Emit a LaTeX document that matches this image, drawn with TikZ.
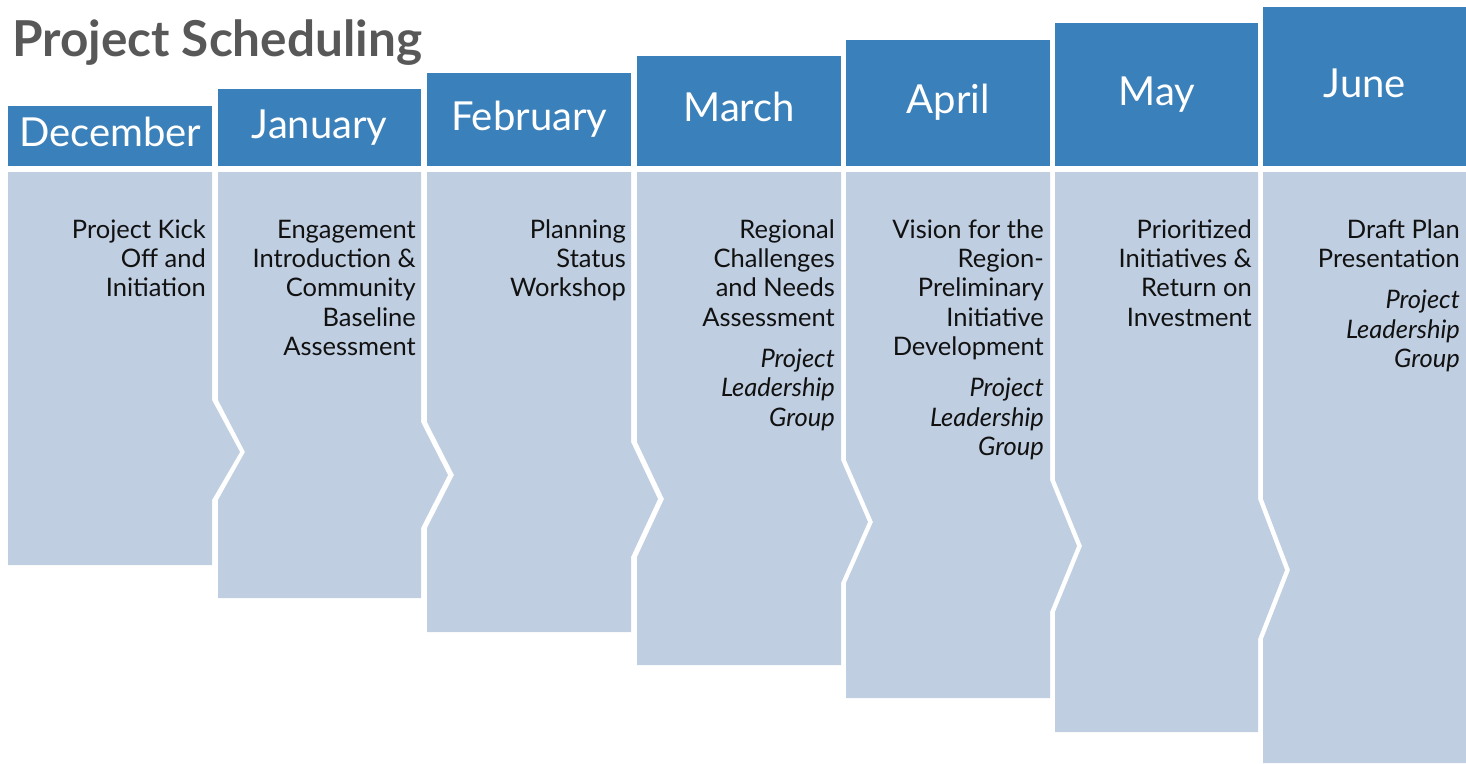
\documentclass[tikz,border=0pt]{standalone}
\usepackage{fontspec}
\setmainfont{Lato}
\definecolor{hdrblue}{HTML}{3A80BA}
\definecolor{bodyblue}{HTML}{BFCEE1}
\definecolor{titlegray}{HTML}{585858}
\definecolor{txtblack}{HTML}{111111}
\newcommand{\firstline}{\rule{0pt}{22pt}}
\begin{document}
\begin{tikzpicture}[x=1pt,y=-1pt,
  hdr/.style={fill=hdrblue, text=white, inner sep=0pt, anchor=south west,
    font=\fontsize{40}{44}\selectfont, text height=28pt, text depth=6pt},
  bodyfill/.style={fill=bodyblue},
  bodytxt/.style={align=right, anchor=north east, inner sep=0pt,
    font=\fontsize{25.5}{29.3}\selectfont, text=txtblack},
  titletxt/.style={anchor=base west, inner sep=0pt, text=titlegray,
    font=\fontsize{49.5}{55}\selectfont\bfseries}
]
\useasboundingbox (0,0) rectangle (1466,763);

% title
\node[titletxt] (title) at (12,56) {Project Scheduling};

% headers
\node[hdr, minimum width=204pt, minimum height=60pt]  (hdec) at (8,166)    {December};
\node[hdr, minimum width=203pt, minimum height=77pt]  (hjan) at (218,166)  {January};
\node[hdr, minimum width=204pt, minimum height=93pt]  (hfeb) at (427,166)  {February};
\node[hdr, minimum width=204pt, minimum height=110pt] (hmar) at (637,166)  {March};
\node[hdr, minimum width=204pt, minimum height=126pt] (hapr) at (846,166)  {April};
\node[hdr, minimum width=203pt, minimum height=143pt] (hmay) at (1055,166) {May};
\node[hdr, minimum width=203pt, minimum height=159pt] (hjun) at (1263,166) {June};

% bodies
\fill[bodyfill] (8,172) -- (212,172) -- (212,400) -- (240,452) -- (212,500)
  -- (212,565) -- (8,565) -- cycle;
\fill[bodyfill] (218,172) -- (421,172) -- (421,422) -- (448,475) -- (421,528)
  -- (421,598) -- (218,598) -- (218,500) -- (245,452) -- (218,400) -- cycle;
\fill[bodyfill] (427,172) -- (631,172) -- (631,442) -- (658,499) -- (631,557)
  -- (631,632) -- (427,632) -- (427,528) -- (454,475) -- (427,422) -- cycle;
\fill[bodyfill] (637,172) -- (841,172) -- (841,460) -- (868,522) -- (841,583)
  -- (841,665) -- (637,665) -- (637,557) -- (664,499) -- (637,442) -- cycle;
\fill[bodyfill] (846,172) -- (1050,172) -- (1050,480) -- (1077,546) -- (1050,612)
  -- (1050,698) -- (846,698) -- (846,583) -- (873,522) -- (846,460) -- cycle;
\fill[bodyfill] (1055,172) -- (1258,172) -- (1258,499) -- (1285,570) -- (1258,639)
  -- (1258,732) -- (1055,732) -- (1055,612) -- (1082,546) -- (1055,480) -- cycle;
\fill[bodyfill] (1263,172) -- (1466,172) -- (1466,763) -- (1263,763)
  -- (1263,639) -- (1290,570) -- (1263,499) -- cycle;

% body texts (first baseline at y = 238)
\node[bodytxt] (tdec) at (206,216) {\firstline Project Kick\\Off and\\Initiation};
\node[bodytxt] (tjan) at (416,216) {\firstline Engagement\\Introduction \&\\Community\\Baseline\\Assessment};
\node[bodytxt] (tfeb) at (626,216) {\firstline Planning\\Status\\Workshop};
\node[bodytxt] (tmar) at (835,216) {\firstline Regional\\Challenges\\and Needs\\Assessment\\[12pt]\textit{Project}\\\textit{Leadership}\\\textit{Group}};
\node[bodytxt] (tapr) at (1044,216) {\firstline Vision for the\\Region-\\Preliminary\\Initiative\\Development\\[12pt]\textit{Project}\\\textit{Leadership}\\\textit{Group}};
\node[bodytxt] (tmay) at (1252,216) {\firstline Prioritized\\Initiatives \&\\Return on\\Investment};
\node[bodytxt] (tjun) at (1460,216) {\firstline Draft Plan\\Presentation\\[12pt]\textit{Project}\\\textit{Leadership}\\\textit{Group}};
\end{tikzpicture}
\end{document}
